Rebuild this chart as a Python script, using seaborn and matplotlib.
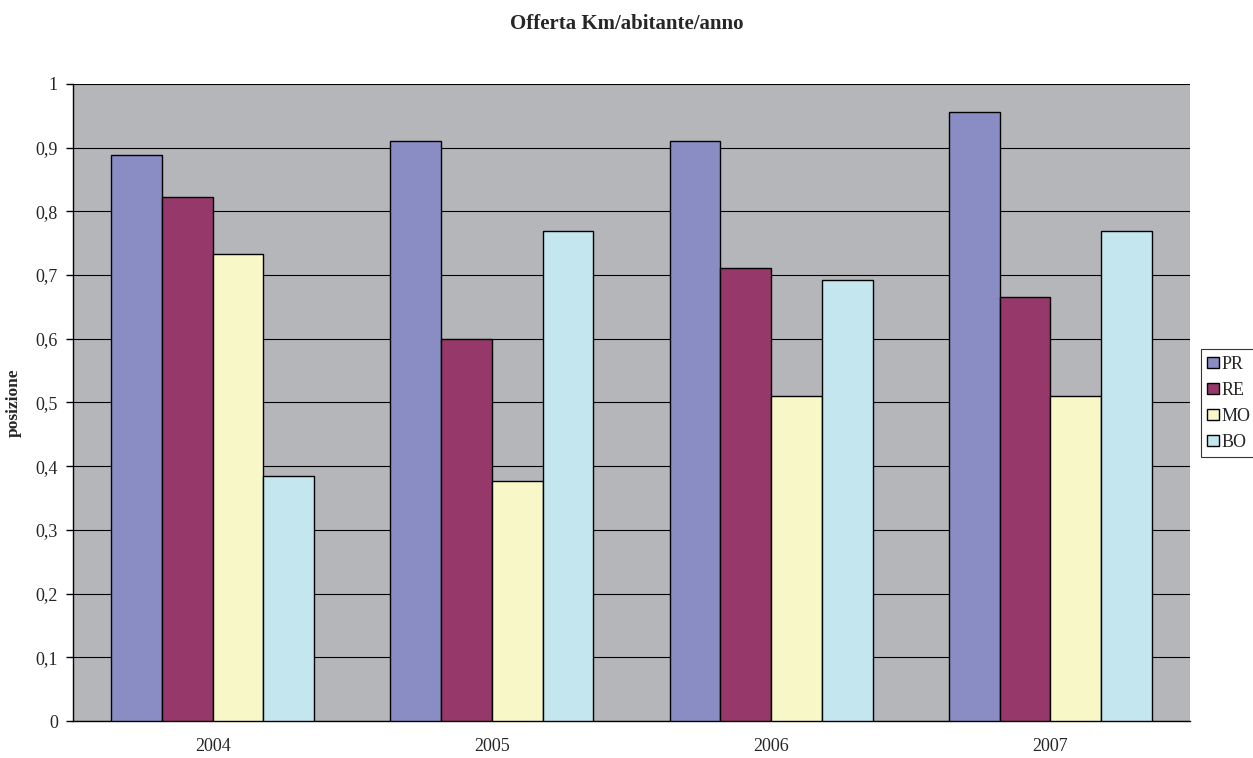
import numpy as np
import pandas as pd
import matplotlib
matplotlib.use("Agg")
import matplotlib.pyplot as plt
import seaborn as sns
from matplotlib.ticker import FuncFormatter, FixedLocator
from matplotlib.patches import Patch

years = ["2004", "2005", "2006", "2007"]
cities = ["PR", "RE", "MO", "BO"]
pr = [0.888, 0.911, 0.911, 0.956]
re_ = [0.823, 0.600, 0.711, 0.666]
mo = [0.733, 0.377, 0.510, 0.510]
bo = [0.385, 0.769, 0.692, 0.769]
colors = ["#8A8CC4", "#963869", "#F8F7C8", "#C3E6EF"]

df = pd.DataFrame({
    "anno": years * 4,
    "citta": [c for c in cities for _ in years],
    "valore": pr + re_ + mo + bo,
})

sns.set_style("white")
plt.rcParams["font.family"] = ["Liberation Serif", "DejaVu Serif"]

fig = plt.figure(figsize=(12.53, 7.58), dpi=100)
ax = fig.add_axes([0.0583, 0.0488, 0.8914, 0.8404])
ax.set_facecolor("#B5B6BA")

sns.barplot(data=df, x="anno", y="valore", hue="citta", hue_order=cities,
            palette=colors, width=0.727, edgecolor="black", linewidth=1.0,
            saturation=1, ax=ax, legend=False, zorder=3)

ax.set_ylim(0, 1)
ax.set_xlim(-0.5, 3.5)
ax.set_yticks(np.arange(0, 1.01, 0.1))
ax.yaxis.set_major_formatter(FuncFormatter(lambda v, p: ("%g" % round(v, 1)).replace(".", ",")))
ax.grid(axis="y", color="black", linewidth=0.8, zorder=0)
ax.set_axisbelow(True)

ax.xaxis.set_minor_locator(FixedLocator(np.arange(-0.5, 3.6, 1)))
ax.tick_params(axis="x", which="major", length=0, labelsize=13, pad=12)
ax.tick_params(axis="x", which="minor", length=5, width=1, direction="out", color="black")
ax.tick_params(axis="y", length=5, width=1, direction="out", color="black", labelsize=13,
               pad=6, left=True)

for s in ["top", "right"]:
    ax.spines[s].set_visible(False)
for s in ["left", "bottom"]:
    ax.spines[s].set_color("black")
    ax.spines[s].set_linewidth(1)

ax.set_xlabel("")
ax.set_ylabel("posizione", fontsize=12.5, fontweight="bold")
ax.yaxis.set_label_coords(-0.0457, 0.5)

fig.suptitle("Offerta Km/abitante/anno", fontsize=15, fontweight="bold", y=0.982)

handles = [Patch(facecolor=c, edgecolor="black", label=l) for c, l in zip(colors, cities)]
leg = fig.legend(handles=handles, loc="center left", bbox_to_anchor=(0.9585, 0.468),
                 frameon=True, fancybox=False, fontsize=13, handlelength=0.62,
                 handleheight=0.62, handletextpad=0.15, borderpad=0.35, labelspacing=0.5,
                 borderaxespad=0)
leg.get_frame().set_edgecolor("black")
leg.get_frame().set_linewidth(0.8)

fig.savefig("out.png", dpi=100)
